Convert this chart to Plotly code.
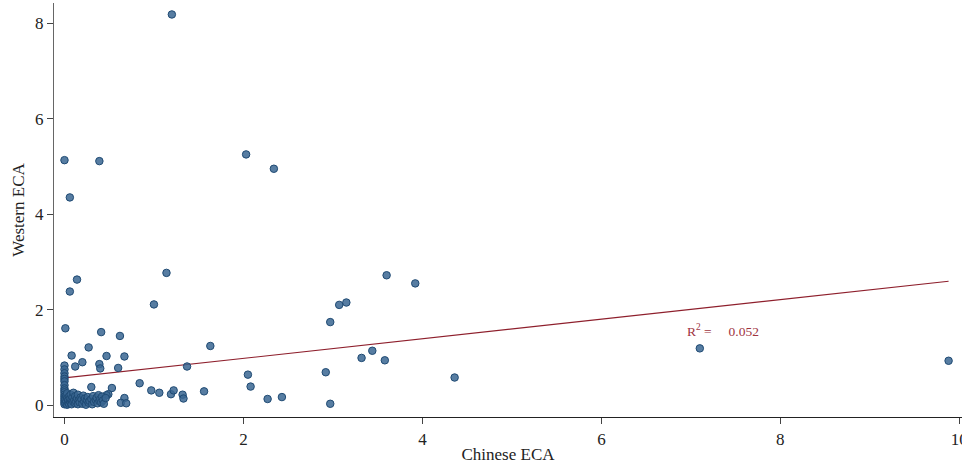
import plotly.graph_objects as go

# Chinese vs Western ECA per observation
chinese_eca = [
    1.20, 0.00, 0.39, 0.06, 2.03, 2.34, 0.14, 0.06, 1.14, 1.00,
    0.01, 0.41, 0.62, 0.27, 1.63, 3.60, 3.92, 3.07, 3.15, 2.97,
    2.05, 2.08, 2.27, 2.43, 2.92, 2.97, 3.32, 3.44, 3.58, 4.36,
    7.10, 9.88, 0.08, 0.47, 0.67, 0.12, 0.20, 0.39, 0.40, 0.60,
    1.37, 0.84, 0.30, 0.53, 0.49, 0.47, 0.67, 0.63, 0.69, 0.97,
    1.06, 1.19, 1.22, 1.32, 1.33, 1.56,
    # x = 0 column
    0.00, 0.00, 0.00, 0.00, 0.00, 0.00, 0.00, 0.00,
    0.00, 0.00, 0.00, 0.00, 0.00, 0.00, 0.00, 0.00,
    # dense group near the origin
    0.01, 0.01, 0.02, 0.02, 0.03, 0.03, 0.03, 0.04, 0.04, 0.05,
    0.05, 0.06, 0.06, 0.07, 0.07, 0.08, 0.08, 0.09, 0.10, 0.10,
    0.11, 0.12, 0.12, 0.13, 0.14, 0.15, 0.15, 0.16, 0.17, 0.18,
    0.19, 0.20, 0.21, 0.22, 0.23, 0.24, 0.25, 0.26, 0.27, 0.28,
    0.30, 0.31, 0.32, 0.33, 0.35, 0.36, 0.37, 0.38, 0.39, 0.40,
    0.41, 0.42, 0.43, 0.44, 0.46,
]
western_eca = [
    8.18, 5.13, 5.11, 4.35, 5.25, 4.95, 2.63, 2.38, 2.77, 2.11,
    1.61, 1.53, 1.45, 1.21, 1.24, 2.72, 2.55, 2.10, 2.15, 1.74,
    0.64, 0.39, 0.13, 0.17, 0.69, 0.03, 0.99, 1.14, 0.94, 0.58,
    1.19, 0.93, 1.04, 1.03, 1.02, 0.81, 0.90, 0.86, 0.77, 0.78,
    0.81, 0.46, 0.38, 0.36, 0.23, 0.21, 0.15, 0.05, 0.04, 0.31,
    0.26, 0.23, 0.31, 0.22, 0.14, 0.29,
    0.83, 0.75, 0.67, 0.60, 0.55, 0.50, 0.42, 0.35,
    0.31, 0.27, 0.22, 0.18, 0.14, 0.10, 0.06, 0.02,
    0.04, 0.12, 0.08, 0.20, 0.01, 0.15, 0.25, 0.06, 0.11, 0.18,
    0.03, 0.09, 0.14, 0.22, 0.05, 0.12, 0.02, 0.17, 0.07, 0.26,
    0.11, 0.04, 0.19, 0.08, 0.14, 0.02, 0.22, 0.10, 0.06, 0.16,
    0.12, 0.03, 0.20, 0.08, 0.14, 0.01, 0.11, 0.17, 0.05, 0.09,
    0.13, 0.02, 0.19, 0.07, 0.11, 0.16, 0.04, 0.21, 0.09, 0.13,
    0.06, 0.18, 0.10, 0.03, 0.15,
]

# Linear fit (Western on Chinese) and its R-squared
fit_intercept = 0.57
fit_slope = 0.205
r_squared = 0.052

serif = "Liberation Serif, Times New Roman, serif"

fit_x = [min(chinese_eca), max(chinese_eca)]
fit_y = [fit_intercept + fit_slope * v for v in fit_x]

fig = go.Figure()
fig.add_trace(go.Scatter(
    x=fit_x, y=fit_y, mode="lines",
    line=dict(color="#8e1f2c", width=1.2),
    hoverinfo="skip", showlegend=False,
))
fig.add_trace(go.Scatter(
    x=chinese_eca, y=western_eca, mode="markers",
    marker=dict(size=7.5, color="rgba(58,102,146,0.85)",
                line=dict(color="#1f4a73", width=1)),
    showlegend=False,
))

fig.add_annotation(
    x=6.94, y=1.57, xanchor="left", yanchor="middle", showarrow=False,
    text="R<sup>2</sup> =\u00a0\u00a0\u00a0\u00a0\u00a0" + f"{r_squared:.3f}",
    font=dict(family=serif, size=13.5, color="#a0343f"),
)

fig.update_layout(
    width=962, height=465,
    margin=dict(l=54, r=0, t=3, b=48, autoexpand=False),
    paper_bgcolor="white", plot_bgcolor="white",
    font=dict(family=serif, size=17, color="#222"),
)
fig.update_xaxes(
    range=[-0.117, 10.03], tickvals=[0, 2, 4, 6, 8, 10],
    ticklabeloverflow="allow", automargin=False,
    showgrid=False, zeroline=False,
    showline=True, linecolor="#222", linewidth=1.2,
    ticks="outside", ticklen=6, tickcolor="#444",
    title=dict(text="Chinese ECA", font=dict(size=17), standoff=0),
)
fig.update_yaxes(
    range=[-0.247, 8.42], tickvals=[0, 2, 4, 6, 8],
    automargin=False,
    showgrid=False, zeroline=False,
    showline=True, linecolor="#666", linewidth=1.2,
    ticks="outside", ticklen=6, tickcolor="#444",
    title=dict(text="Western ECA", font=dict(size=17), standoff=6),
)

fig.write_html("out.html")
